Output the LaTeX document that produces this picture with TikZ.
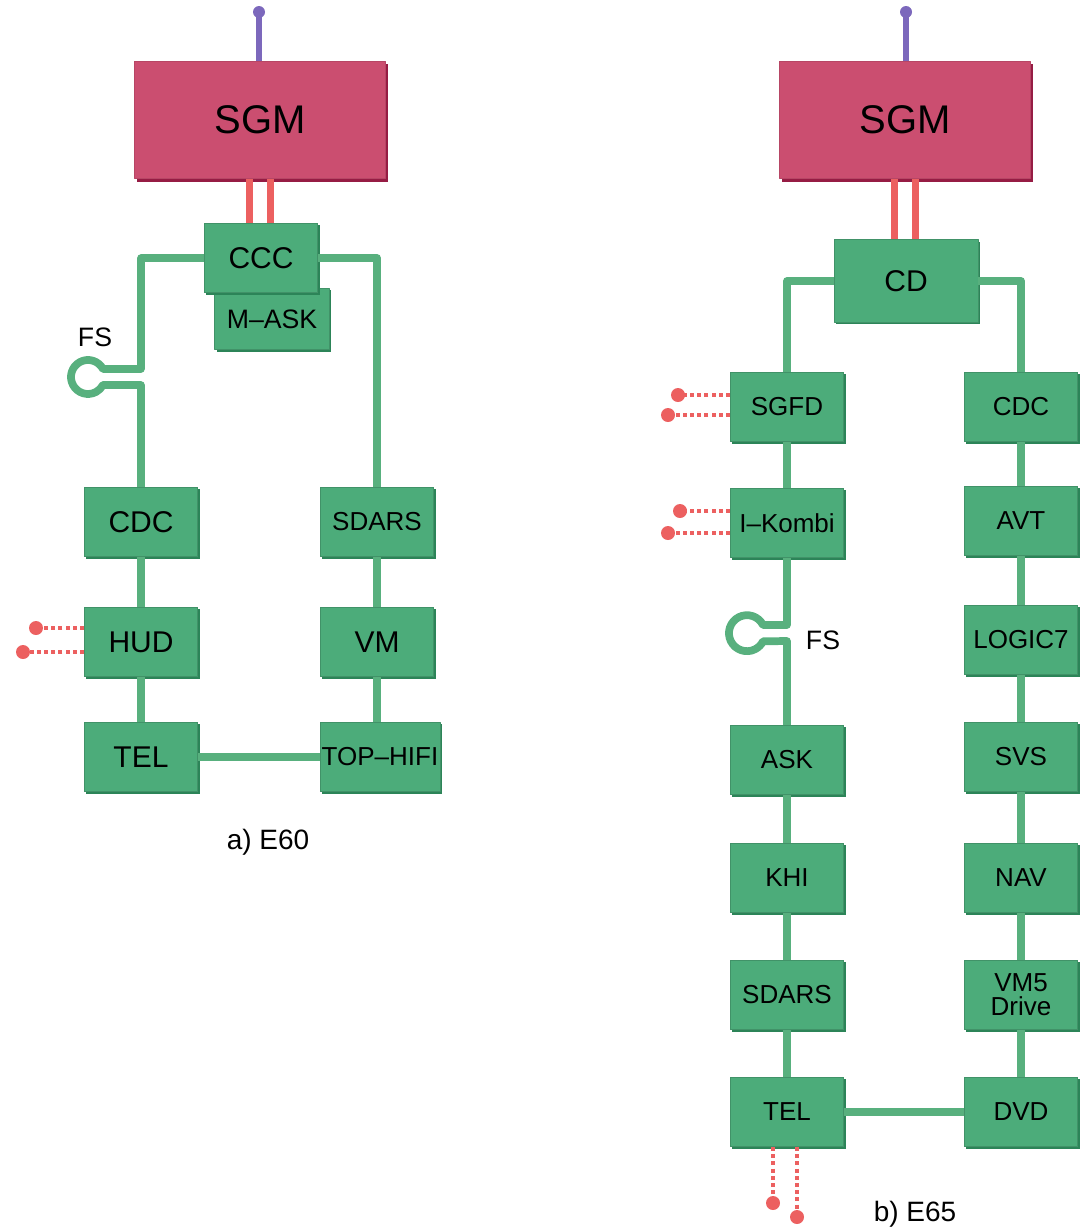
\documentclass[tikz,border=0pt]{standalone}
\usepackage{fontspec}
\setmainfont{Liberation Sans}
\usetikzlibrary{shadows}
\definecolor{boxgreen}{RGB}{76,172,122}
\definecolor{boxedge}{RGB}{44,132,88}
\definecolor{busgreen}{RGB}{88,176,126}
\definecolor{sgmred}{RGB}{203,78,112}
\definecolor{sgmedge}{RGB}{150,28,68}
\definecolor{linkred}{RGB}{236,96,96}
\definecolor{antpurple}{RGB}{124,104,188}
\begin{document}
\begin{tikzpicture}[x=0.75pt,y=-0.75pt,line cap=round,line join=round,
  box/.style={rectangle,fill=boxgreen,draw=boxgreen!85!black,line width=0.6pt,inner sep=1pt,
    minimum width=85pt,minimum height=52pt,align=center,font=\fontsize{19.5}{18}\selectfont,
    general shadow={shadow xshift=1.6pt,shadow yshift=-1.6pt,fill=boxedge}},
  bigbox/.style={box,font=\fontsize{22.5}{24}\selectfont},
  sgmbox/.style={rectangle,fill=sgmred,draw=sgmred!90!black,line width=0.6pt,
    minimum width=188pt,minimum height=88pt,font=\fontsize{30}{32}\selectfont,
    general shadow={shadow xshift=1.8pt,shadow yshift=-2.2pt,fill=sgmedge}},
  bus/.style={draw=busgreen,line width=5.8pt,line cap=butt},
  link/.style={draw=linkred,line width=5pt,line cap=butt},
  antenna/.style={draw=antpurple,line width=4.2pt,line cap=butt},
  pin/.style={draw=linkred,line width=3.4pt,line cap=butt,dash pattern=on 3pt off 2.4pt},
  label/.style={font=\fontsize{20}{22}\selectfont}]
  \useasboundingbox (0,0) rectangle (1083,1232);
  \node[sgmbox] (sgmA) at (260,120) {SGM};
  \node[sgmbox] (sgmB) at (905,120) {SGM};
  \coordinate (antA) at (259,12);
  \coordinate (antB) at (906,12);
  \draw[antenna] (sgmA.north) ++(-1,0) -- (antA);
  \draw[antenna] (sgmB.north) ++(1,0) -- (antB);
  \fill[antpurple] (antA) circle (6);
  \fill[antpurple] (antB) circle (6);
  \node[box,font=\fontsize{20}{22}\selectfont,minimum width=86pt,minimum height=46pt] (mask) at (272,319) {M--ASK};
  \node[bigbox] (ccc) at (261,258) {CCC};
  \node[bigbox,minimum width=108pt,minimum height=62pt] (cd) at (906,281) {CD};
  \draw[link] ([xshift=-8pt]sgmA.south) -- ([xshift=-8pt]sgmA.south |- ccc.north);
  \draw[link] ([xshift=8pt]sgmA.south) -- ([xshift=8pt]sgmA.south |- ccc.north);
  \draw[link] ([xshift=-8pt]sgmB.south) -- ([xshift=-8pt]sgmB.south |- cd.north);
  \draw[link] ([xshift=8pt]sgmB.south) -- ([xshift=8pt]sgmB.south |- cd.north);
  \node[bigbox] (cdcA) at (141,522) {CDC};
  \node[bigbox] (hudA) at (141,642) {HUD};
  \node[bigbox] (telA) at (141,757) {TEL};
  \node[box] (sdarsA) at (377,522) {SDARS};
  \node[bigbox] (vmA) at (377,642) {VM};
  \node[box,minimum width=90pt] (hifiA) at (380,757) {TOP--HIFI};
  \foreach \name/\txt/\y in {sgfd/SGFD/407,ikombi/I--Kombi/523,ask/ASK/760,khi/KHI/878,sdarsB/SDARS/995,telB/TEL/1112}
    \node[box] (\name) at (787,\y) {\txt};
  \foreach \name/\txt/\y in {cdcB/CDC/407,avt/AVT/521,logic/LOGIC7/640,svs/SVS/757,nav/NAV/878,vmfive/{VM5\\Drive}/995,dvd/DVD/1112}
    \node[box] (\name) at (1021,\y) {\txt};
  \draw[bus] (ccc.west) -| (141,369) -- (103,369) arc[start angle=-28,end angle=-332,radius=17] -- (141,385) -- (cdcA.north);
  \draw[bus] (ccc.east) -| (sdarsA.north);
  \draw[bus] (cdcA) -- (hudA);
  \draw[bus] (hudA) -- (telA);
  \draw[bus] (sdarsA) -- (vmA);
  \draw[bus] (vmA) -- (hifiA.north -| vmA);
  \draw[bus] (telA) -- (hifiA);
  \draw[bus] (cd.west) -| (sgfd.north);
  \draw[bus] (cd.east) -| (cdcB.north);
  \draw[bus] (sgfd) -- (ikombi);
  \draw[bus] (ikombi.south) -- (787,625) -- (763,625) arc[start angle=-27,end angle=-333,radius=18] -- (787,641) -- (ask.north);
  \foreach \a/\b in {ask/khi,khi/sdarsB,sdarsB/telB,cdcB/avt,avt/logic,logic/svs,svs/nav,nav/vmfive,vmfive/dvd}
    \draw[bus] (\a) -- (\b);
  \draw[bus] (telB) -- (dvd);
  \coordinate (hudPinA) at (36,628);
  \coordinate (hudPinB) at (23,652);
  \coordinate (sgfdPinA) at (678,395);
  \coordinate (sgfdPinB) at (668,415);
  \coordinate (ikPinA) at (680,511);
  \coordinate (ikPinB) at (668,533);
  \coordinate (telPinA) at (773,1203);
  \coordinate (telPinB) at (797,1217);
  \draw[pin] (hudA.west |- hudPinA) -- (hudPinA);
  \draw[pin] (hudA.west |- hudPinB) -- (hudPinB);
  \draw[pin] (sgfd.west |- sgfdPinA) -- (sgfdPinA);
  \draw[pin] (sgfd.west |- sgfdPinB) -- (sgfdPinB);
  \draw[pin] (ikombi.west |- ikPinA) -- (ikPinA);
  \draw[pin] (ikombi.west |- ikPinB) -- (ikPinB);
  \draw[pin] (telB.south -| telPinA) -- (telPinA);
  \draw[pin] (telB.south -| telPinB) -- (telPinB);
  \foreach \p in {hudPinA,hudPinB,sgfdPinA,sgfdPinB,ikPinA,ikPinB,telPinA,telPinB}
    \fill[linkred] (\p) circle (7);
  \node[label] (fsA) at (95,337) {FS};
  \node[label] (fsB) at (823,640) {FS};
  \node[label,font=\fontsize{21}{22}\selectfont] (capA) at (268,842) {a) E60};
  \node[label,font=\fontsize{21}{22}\selectfont] (capB) at (915,1214) {b) E65};
\end{tikzpicture}
\end{document}
